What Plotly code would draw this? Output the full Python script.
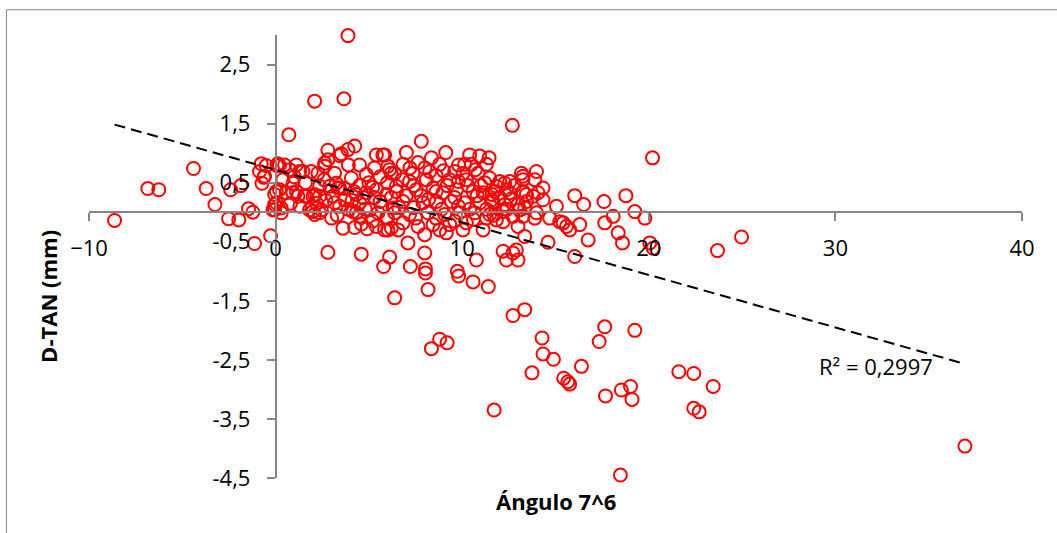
import plotly.graph_objects as go

# ---- data ----
angulo = [
    -8.63, -6.85, -6.26, -4.40, -3.72, -3.25, -2.52, -2.41, -1.97, -1.86, -1.45, -1.22, -1.13, -0.27,
    -0.73, -0.63, -0.77, -0.50, 0.07, -0.86, -0.05, -0.05,
    3.88, 2.09, 3.66, 0.71, 2.80, 3.43, 3.88, 4.24, 12.69, 20.20, 7.81,
    0.12, 0.48, 1.11, 0.75, 1.46, 1.91, 2.27, 2.63, 2.80, 3.16, 0.39, 0.93, 0.04, 0.57, 1.11, 1.55,
    2.00, 2.36, 2.90, 3.34, 3.70, 3.16, 0.04, 0.30, -0.14, 0.30, 2.00, 2.36, 2.09, 4.33, 4.06,
    3.52, 2.63, 5.40, 5.84, 6.02, 6.20, 4.86, 1.29, 0.21, -0.59, 0.21, -0.05, 0.93, 1.20, 1.64,
    2.09, 2.36, 3.07, 3.43, 3.25, 1.82, 2.45, 3.43, 3.61, 4.24, 2.80, 4.59, 6.11,
    4.33, 4.50, 4.86, 5.40, 5.94, 5.04, 5.49, 5.94, 5.40, 6.20, 5.84, 4.15, 4.50, 6.29, 6.47,
    5.75, 7.01, 9.12, 10.40, 10.94, 11.44, 6.83, 7.63, 8.35, 8.79, 6.11, 7.36, 8.26, 9.60, 10.13,
    11.30, 10.85, 12.01, 12.55, 13.17, 13.98, 13.89, 14.33, 13.26, 16.03, 16.51, 17.60, 18.77,
    19.25, 19.79, 18.09, 17.64, 18.36, 18.59, 20.23, 20.05, 16.75, 16.30, 15.76, 16.03, 15.05,
    14.69, 15.23, 15.59, 14.60, 13.35, 12.99, 13.98, 13.44, 14.33, 14.06, 13.08, 12.37, 11.83,
    11.57, 11.83, 11.30, 11.12, 10.76, 12.19, 12.90, 12.99, 12.37, 10.04, 9.15, 7.99, 7.99, 6.56,
    6.02,
    10.49, 10.04, 6.38, 8.08, 7.18, 9.33, 10.22, 11.47, 12.28, 6.47, 7.54, 8.44, 8.97, 9.69, 10.58,
    11.12, 11.74, 12.55, 13.26, 6.83, 7.90, 8.62, 9.42, 10.13, 10.94, 11.65, 12.28, 12.99, 6.38,
    7.18, 8.17, 9.06, 9.87, 10.67, 11.47, 12.19, 12.72, 6.83, 7.63, 8.44, 9.33, 10.22, 12.19, 7.09,
    12.72, 8.79,
    13.26, 13.44, 13.80, 13.35, 13.26, 13.89, 15.41,
    5.79, 7.22, 8.03, 8.03, 8.17, 6.38, 9.74, 9.81, 10.58, 11.40, 12.72, 8.79, 9.19, 8.35,
    13.35, 11.71, 14.28, 14.33, 14.89, 13.74, 16.39, 15.44, 15.66, 15.76, 17.64, 17.34, 19.25,
    17.68, 18.53, 19.02, 19.10, 18.48, 21.61, 22.41, 22.41, 22.70, 23.45, 36.94, 23.68, 24.97,
    4.50, 5.00, 5.30, 5.70, 4.80, 5.20, 6.00, 4.20, 3.90, 3.70, 5.60, 4.60,
    4.10, 4.70, 5.20, 5.60, 6.20, 6.60, 7.00, 7.40, 7.40, 7.80, 8.20, 8.60, 8.90, 9.20, 9.60,
    9.80, 10.30, 10.40, 10.80, 11.20, 11.30, 11.60, 12.00, 12.40, 12.80, 12.60, 7.20, 8.00, 9.00,
    9.80, 10.70, 6.80, 8.60, 9.80, 11.00, 5.30, 4.50, 1.60, 2.20, 2.70, 1.30, 0.80, 3.00, 2.60,
    1.00, 3.90, 7.50, 8.60, 9.60, 10.60, 11.70, 6.00, 4.90, 3.30,
]
d_tan = [
    -0.14, 0.40, 0.38, 0.74, 0.40, 0.13, -0.11, 0.38, -0.13, 0.45, 0.06, 0.00, -0.53, -0.40,
    0.49, 0.59, 0.82, 0.79, 0.79, 0.69, 0.30, 0.13,
    2.99, 1.88, 1.92, 1.31, 1.05, 0.96, 1.06, 1.12, 1.47, 0.92, 1.20,
    0.82, 0.80, 0.80, 0.72, 0.69, 0.69, 0.66, 0.83, 0.89, 0.66, 0.55, 0.49, 0.35, 0.33, 0.35, 0.27,
    0.27, 0.44, 0.44, 0.41, 0.21, 0.16, 0.16, 0.07, 0.04, -0.01, 0.01, -0.01, -0.04, -0.01, 0.58,
    0.99, 0.78, 0.97, 0.97, 0.78, 0.66, 0.64, 0.69, 0.79, 0.61, 0.38, 0.04, 0.33, 0.27, 0.27,
    0.30, 0.27, 0.27, 0.41, 0.49, 0.04, 0.04, 0.10, -0.27, -0.26, -0.68, -0.71, -0.76,
    0.30, 0.16, 0.33, 0.38, 0.30, 0.04, -0.01, -0.10, -0.24, -0.27, -0.30, 0.01, -0.07, 0.07, 0.44,
    0.97, 1.01, 1.01, 0.97, 0.95, 0.92, 0.81, 0.84, 0.92, 0.81, 0.72, 0.66, 0.69, 0.69, 0.81,
    0.81, 0.66, 0.52, 0.52, 0.66, 0.69, 0.55, 0.41, 0.55, 0.28, 0.13, 0.18, 0.28,
    0.01, -0.10, -0.07, -0.18, -0.35, -0.52, -0.61, -0.52, -0.47, -0.21, -0.30, -0.75, 0.10,
    -0.10, -0.16, -0.24, -0.51, -0.41, -0.24, -0.01, 0.18, 0.21, 0.33, 0.04, 0.38, 0.44,
    0.21, -0.13, -0.10, -0.30, -0.81, -0.66, -0.64, -0.81, -0.81, -0.30, -0.35, -0.38, -0.69, -0.30,
    -0.30,
    0.81, 0.66, 0.66, 0.55, 0.52, 0.55, 0.55, 0.58, 0.49, 0.35, 0.38, 0.41, 0.33, 0.38, 0.35,
    0.33, 0.35, 0.33, 0.35, 0.18, 0.16, 0.18, 0.18, 0.16, 0.16, 0.18, 0.13, 0.13, -0.01,
    -0.04, -0.01, -0.04, -0.01, -0.01, -0.04, 0.01, -0.07, -0.18, -0.24, -0.21, -0.21, -0.18, -0.16, -0.52,
    -0.69, -0.30,
    0.61, 0.30, 0.27, 0.07, -0.07, -0.10, -0.18,
    -0.92, -0.92, -0.96, -1.03, -1.31, -1.45, -1.00, -1.08, -1.18, -1.26, -1.75, -2.15, -2.21, -2.31,
    -1.65, -3.35, -2.13, -2.40, -2.49, -2.72, -2.61, -2.81, -2.87, -2.91, -1.94, -2.19, -2.00,
    -3.11, -3.01, -2.95, -3.17, -4.45, -2.70, -2.73, -3.32, -3.38, -2.95, -3.96, -0.65, -0.42,
    0.45, 0.50, 0.25, 0.10, 0.05, -0.15, 0.50, 0.35, 0.05, 0.40, 0.60, -0.20,
    0.20, 0.25, 0.42, 0.18, 0.25, 0.08, 0.28, 0.45, 0.08, 0.28, 0.22, 0.35, 0.05, 0.45, 0.25,
    0.10, 0.45, 0.05, 0.28, 0.50, 0.05, 0.30, 0.25, 0.05, 0.45, 0.22, 0.75, 0.75, 0.70,
    0.80, 0.72, 0.55, 0.62, 0.52, 0.45, 0.75, 0.80, 0.50, 0.15, 0.20, 0.10, 0.15, -0.10, 0.55,
    0.60, 0.80, -0.10, -0.10, -0.15, -0.12, -0.05, -0.10, -0.28, -0.05,
]

x_ticks = [-10, 0, 10, 20, 30, 40]
y_ticks = [-4.5, -3.5, -2.5, -1.5, -0.5, 0.5, 1.5, 2.5]
y_tick_labels = ["-4,5", "-3,5", "-2,5", "-1,5", "-0,5", "0,5", "1,5", "2,5"]

trend_slope = -0.0889
trend_intercept = 0.716
r2_label = "R² = 0,2997"
x_title = "Ángulo 7^6"
y_title = "D-TAN (mm)"

FONT = "Open Sans"
AXIS_GRAY = "#868686"

trend_x = [min(angulo), max(angulo)]
trend_y = [trend_intercept + trend_slope * v for v in trend_x]

fig = go.Figure()
fig.add_trace(go.Scatter(
    x=angulo, y=d_tan, mode="markers", cliponaxis=False,
    marker=dict(symbol="circle-open", size=13, color="#FF0000", line=dict(width=2, color="#FF0000")),
    showlegend=False, hoverinfo="skip",
))
fig.add_trace(go.Scatter(
    x=trend_x, y=trend_y, mode="lines", cliponaxis=False,
    line=dict(color="black", width=2, dash="11px,6px"),
    showlegend=False, hoverinfo="skip",
))

fig.update_layout(
    width=1057, height=533,
    margin=dict(l=89, r=35, t=35, b=55),
    paper_bgcolor="white", plot_bgcolor="white",
    font=dict(family=FONT, size=22, color="black"),
    xaxis=dict(
        range=[-10, 40], tickvals=x_ticks, anchor="free", position=0.6,
        showline=True, linecolor=AXIS_GRAY, linewidth=1.5,
        ticks="outside", ticklen=8, tickwidth=1.5, tickcolor=AXIS_GRAY,
        showgrid=False, zeroline=False, ticklabelstandoff=9,
        tickfont=dict(family=FONT, size=22, color="black"),
    ),
    yaxis=dict(
        range=[-4.5, 3], tickvals=y_ticks, ticktext=y_tick_labels, anchor="free", position=0.2,
        showline=True, linecolor=AXIS_GRAY, linewidth=1.5,
        ticks="outside", ticklen=8, tickwidth=1.5, tickcolor=AXIS_GRAY,
        showgrid=False, zeroline=False, ticklabelstandoff=12,
        tickfont=dict(family=FONT, size=22, color="black"),
    ),
    shapes=[dict(type="rect", xref="paper", yref="paper",
                 x0=-0.0885, x1=1.3, y0=-0.3, y1=1.057,
                 line=dict(color=AXIS_GRAY, width=1), fillcolor="rgba(0,0,0,0)", layer="below")],
    annotations=[
        dict(text=r2_label, x=29.0, y=-2.60, xref="x", yref="y", xanchor="left", yanchor="middle",
             showarrow=False, font=dict(family=FONT, size=22, color="black")),
        dict(text="<b>" + x_title + "</b>", x=0.5, y=-0.051, xref="paper", yref="paper",
             xanchor="center", yanchor="middle", showarrow=False,
             font=dict(family=FONT, size=22, color="black")),
        dict(text="<b>" + y_title + "</b>", x=-0.044, y=0.411, xref="paper", yref="paper",
             xanchor="center", yanchor="middle", textangle=-90, showarrow=False,
             font=dict(family=FONT, size=22, color="black")),
    ],
)

fig.write_html("out.html")
